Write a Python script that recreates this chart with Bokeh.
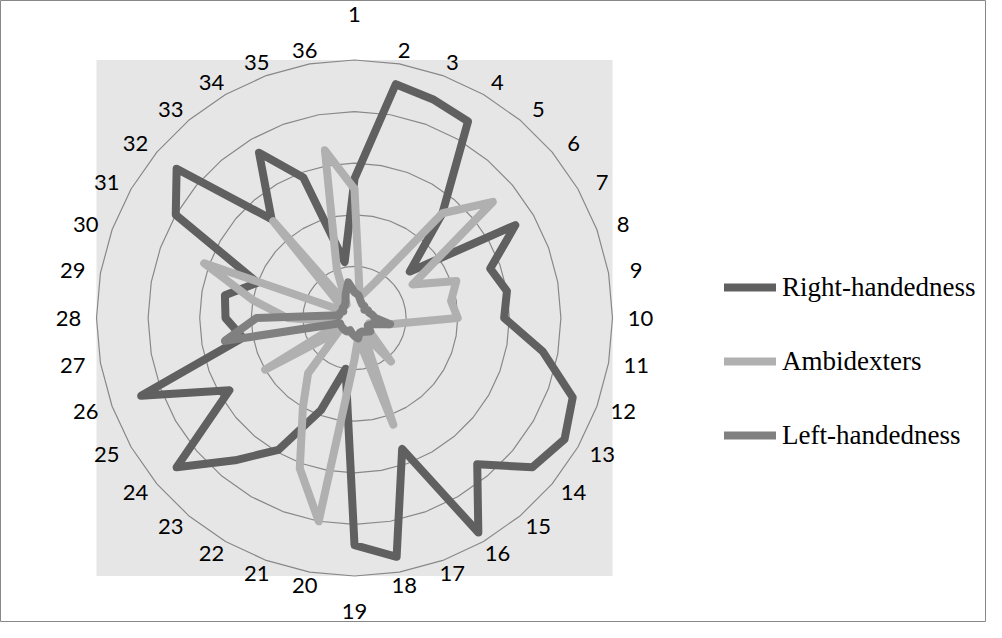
import numpy as np
from bokeh.plotting import figure
from bokeh.models import Range1d, Legend, LegendItem, ColumnDataSource
from bokeh.embed import file_html
from bokeh.resources import INLINE
from bokeh.core.properties import value

# ---------------- data ----------------
categories = [str(i) for i in range(1, 37)]
right_handedness = [27, 46, 45, 44, 26.5, 14, 36, 28, 30, 29, 37, 45, 47, 45, 37, 48, 27, 47,
                    44, 10, 19, 29.5, 36, 45, 28, 44, 22, 25, 25.5, 20, 40, 45, 25, 37, 29, 11]
ambidexters = [25, 5.5, 5, 8, 26.5, 35, 13, 21, 19, 20, 7, 3, 3, 3.5, 11, 3.5, 22, 4,
               8, 40, 31, 20, 14, 4, 20, 3, 4, 13, 20, 31, 3, 3, 24.5, 3, 10, 33]
left_handedness = [5, 4.5, 3.5, 3, 3, 2.5, 3, 3, 3.5, 4, 7, 3.5, 3, 4, 3.5, 3, 3, 4,
                   3.5, 3, 2.5, 3, 3, 3, 3, 3, 25.5, 19, 3, 3, 2.5, 3, 3, 3.5, 5, 7]
series_names = ["Right-handedness", "Ambidexters", "Left-handedness"]
ring_values = [10, 20, 30, 40, 50]

# ---------------- layout ----------------
W, H = 986, 622
RMAX_PX = 258.0
rmax = ring_values[-1]
PX = RMAX_PX / rmax          # pixels per data unit
cx, cy = 354.0, 317.5        # radar centre inside the canvas (px from top-left)

p = figure(width=W, height=H,
           x_range=Range1d(-cx / PX, (W - cx) / PX),
           y_range=Range1d(-(H - cy) / PX, cy / PX),
           output_backend="svg", toolbar_location=None, min_border=0)
p.axis.visible = False
p.grid.visible = False
p.background_fill_color = "white"
p.border_fill_color = "white"
p.outline_line_color = "#888888"
p.outline_line_width = 1

n = len(categories)
theta = np.deg2rad(np.arange(n) * 360.0 / n)
sin_t, cos_t = np.sin(theta), np.cos(theta)


def polar(vals):
    r = np.asarray(vals, dtype=float)
    x = r * sin_t
    y = r * cos_t
    return np.append(x, x[0]), np.append(y, y[0])


# plot area background
p.quad(left=-rmax, right=rmax, bottom=-rmax, top=rmax,
       fill_color="#e6e6e6", line_color=None)

# grid rings (36-gon)
for rv in ring_values:
    gx, gy = polar([rv] * n)
    p.line(gx, gy, line_color="#888888", line_width=1.2)

# series
colors = ["#606060", "#b0b0b0", "#808080"]
renderers = []
for vals, col in zip([right_handedness, ambidexters, left_handedness], colors):
    sx, sy = polar(vals)
    r = p.line(sx, sy, line_color=col, line_width=8,
               line_join="round", line_cap="round")
    renderers.append(r)

# category labels: on an ellipse around the outer ring
lab_x = 286.0 * sin_t / PX
lab_y = 272.0 * cos_t / PX
top = np.isclose(cos_t, 1.0)
bottom = np.isclose(cos_t, -1.0)
lab_y = np.where(top, 304.0 / PX, lab_y)
lab_y = np.where(bottom, -293.0 / PX, lab_y)
src = ColumnDataSource(dict(x=lab_x, y=lab_y, t=categories))
p.text(x="x", y="y", text="t", source=src, text_align="center",
       text_baseline="middle", text_font=value("Lato"),
       text_font_size="22px", text_color="#000000")

# legend
legend = Legend(items=[LegendItem(label=nm, renderers=[rr])
                       for nm, rr in zip(series_names, renderers)],
                location=(724, 167), orientation="vertical",
                glyph_width=52, glyph_height=40, label_height=40,
                label_standoff=6, spacing=34, padding=0, margin=0,
                border_line_color=None, background_fill_alpha=0,
                label_text_font="Liberation Serif",
                label_text_font_size="27px", label_text_color="#000000")
p.add_layout(legend)

open("out.html", "w").write(file_html(p, INLINE))
